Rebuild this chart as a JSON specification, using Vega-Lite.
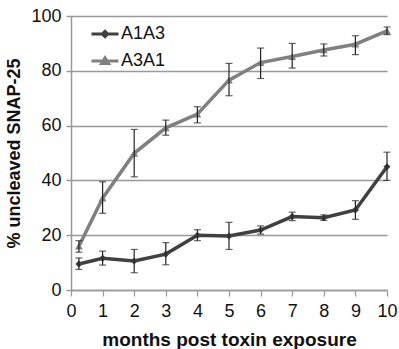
{
  "$schema": "https://vega.github.io/schema/vega-lite/v6.json",
  "width": 316,
  "height": 274,
  "autosize": "none",
  "padding": {"left": 71, "top": 16, "right": 12, "bottom": 59},
  "background": "white",
  "config": {
    "view": {"stroke": null},
    "font": "Liberation Sans",
    "axis": {"labelFont": "Liberation Sans", "titleFont": "Liberation Sans", "labelColor": "#111", "titleColor": "#111"}
  },
  "data": {
    "values": [
      {"series": "A1A3", "x": 0.25, "y": 9.5, "lo": 7.5, "hi": 11.7},
      {"series": "A1A3", "x": 1, "y": 11.6, "lo": 9.1, "hi": 14.2},
      {"series": "A1A3", "x": 2, "y": 10.6, "lo": 6.3, "hi": 14.8},
      {"series": "A1A3", "x": 3, "y": 13.1, "lo": 9.2, "hi": 17.3},
      {"series": "A1A3", "x": 4, "y": 20.0, "lo": 18.0, "hi": 22.0},
      {"series": "A1A3", "x": 5, "y": 19.7, "lo": 14.8, "hi": 24.7},
      {"series": "A1A3", "x": 6, "y": 21.9, "lo": 20.4, "hi": 23.4},
      {"series": "A1A3", "x": 7, "y": 26.8, "lo": 25.3, "hi": 28.4},
      {"series": "A1A3", "x": 8, "y": 26.4, "lo": 25.4, "hi": 27.4},
      {"series": "A1A3", "x": 9, "y": 29.2, "lo": 25.8, "hi": 32.6},
      {"series": "A1A3", "x": 10, "y": 45.0, "lo": 40.0, "hi": 50.3},
      {"series": "A3A1", "x": 0.25, "y": 16.0, "lo": 13.8, "hi": 18.0},
      {"series": "A3A1", "x": 1, "y": 33.5, "lo": 28.0, "hi": 39.5},
      {"series": "A3A1", "x": 2, "y": 49.9, "lo": 41.3, "hi": 58.6},
      {"series": "A3A1", "x": 3, "y": 59.2, "lo": 56.5, "hi": 62.0},
      {"series": "A3A1", "x": 4, "y": 64.2, "lo": 61.0, "hi": 66.9},
      {"series": "A3A1", "x": 5, "y": 76.6, "lo": 70.9, "hi": 82.7},
      {"series": "A3A1", "x": 6, "y": 83.0, "lo": 77.2, "hi": 88.3},
      {"series": "A3A1", "x": 7, "y": 85.2, "lo": 81.0, "hi": 90.0},
      {"series": "A3A1", "x": 8, "y": 87.6, "lo": 85.4, "hi": 89.8},
      {"series": "A3A1", "x": 9, "y": 89.7, "lo": 85.9, "hi": 92.8},
      {"series": "A3A1", "x": 10, "y": 94.6, "lo": 93.2, "hi": 96.0}
    ]
  },
  "encoding": {
    "x": {
      "field": "x", "type": "quantitative",
      "scale": {"domain": [0, 10], "nice": false, "zero": false},
      "axis": {
        "title": "months post toxin exposure",
        "titleFontSize": 19, "titleFontWeight": "bold", "titlePadding": 10,
        "values": [0,1,2,3,4,5,6,7,8,9,10],
        "labelOverlap": false,
        "labelFontSize": 18, "labelPadding": 6,
        "grid": false,
        "domainColor": "#999", "domainWidth": 1.5,
        "tickColor": "#999", "tickSize": 6, "tickWidth": 1.2,
        "labelFlush": false
      }
    },
    "y": {
      "field": "y", "type": "quantitative",
      "scale": {"domain": [0, 100], "nice": false},
      "axis": {
        "title": "% uncleaved SNAP-25",
        "titleFontSize": 18, "titleFontWeight": "bold", "titlePadding": 7,
        "values": [0,20,40,60,80,100],
        "labelOverlap": false,
        "labelFontSize": 18, "labelPadding": 5,
        "grid": true, "gridColor": "#999", "gridWidth": 1.5,
        "domainColor": "#999", "domainWidth": 1.5,
        "tickColor": "#999", "tickSize": 5, "tickWidth": 1.5
      }
    }
  },
  "layer": [
    {
      "mark": {"type": "line", "strokeWidth": 3.5},
      "encoding": {
        "color": {
          "field": "series", "type": "nominal",
          "scale": {"domain": ["A1A3", "A3A1"], "range": ["#404040", "#808080"]},
          "legend": {
            "title": null,
            "orient": "none",
            "legendX": 19,
            "legendY": 3,
            "padding": 0,
            "rowPadding": 3,
            "symbolSize": 729,
            "symbolStrokeWidth": 3,
            "labelFontSize": 18,
            "labelColor": "#111",
            "labelOffset": 1,
            "encode": {
              "symbols": {
                "update": {
                  "shape": {"signal": "datum.value == 'A1A3' ? 'M-1,0H1M0,-0.2L0.2,0L0,0.2L-0.2,0Z' : 'M-1,0H1M0,-0.24L0.26,0.18L-0.26,0.18Z'"},
                  "fill": {"signal": "datum.value == 'A1A3' ? '#404040' : '#808080'"},
                  "stroke": {"signal": "datum.value == 'A1A3' ? '#404040' : '#808080'"},
                  "strokeWidth": {"value": 3}
                }
              }
            }
          }
        }
      }
    },
    {
      "transform": [{"filter": "datum.series == 'A1A3'"}],
      "mark": {"type": "point", "filled": true, "size": 50, "opacity": 1, "shape": "diamond", "color": "#404040"}
    },
    {
      "transform": [{"filter": "datum.series == 'A3A1'"}],
      "mark": {"type": "point", "filled": true, "size": 60, "opacity": 1, "shape": "triangle-up", "color": "#808080"}
    },
    {
      "mark": {"type": "errorbar", "ticks": {"size": 7, "thickness": 1.2}, "thickness": 1.2, "color": "#222"},
      "encoding": {
        "y": {"field": "lo", "type": "quantitative"},
        "y2": {"field": "hi"}
      }
    }
  ]
}
